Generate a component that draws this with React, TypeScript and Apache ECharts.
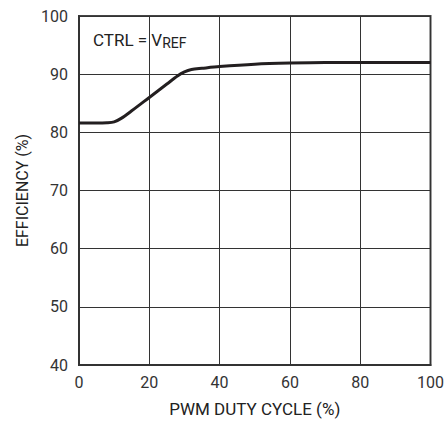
import React, { useEffect, useRef } from "react";
import * as echarts from "echarts";

const dutyCycle = [0, 5, 8, 10, 12, 15, 20, 25, 28, 30, 32, 35, 40, 50, 60, 70, 80, 90, 100];
const efficiency = [81.6, 81.6, 81.65, 81.8, 82.4, 83.7, 86.0, 88.3, 89.7, 90.4, 90.8, 91.0, 91.3, 91.7, 91.9, 92.0, 92.0, 92.0, 92.0];
const xTicks = [0, 20, 40, 60, 80, 100];
const yTicks = [40, 50, 60, 70, 80, 90, 100];

const FONT = "'Liberation Sans Narrow', 'Roboto', 'Liberation Sans', sans-serif";

export default function App() {
  const ref = useRef<HTMLDivElement>(null);
  useEffect(() => {
    if (!ref.current) return;
    const chart = echarts.init(ref.current, null, { renderer: "svg" });
    chart.setOption({
      animation: false,
      backgroundColor: "#fff",
      grid: { left: 79, right: 16, top: 16, bottom: 54, show: true, borderColor: "#444", borderWidth: 2, backgroundColor: "transparent" },
      xAxis: {
        type: "value",
        min: xTicks[0],
        max: xTicks[xTicks.length - 1],
        interval: 20,
        name: "PWM DUTY CYCLE (%)",
        nameLocation: "middle",
        nameGap: 35,
        nameTextStyle: { fontFamily: FONT, fontSize: 17, color: "#222" },
        axisLine: { show: true, lineStyle: { color: "#333", width: 2 } },
        axisTick: { show: false },
        axisLabel: { fontFamily: FONT, fontSize: 16, color: "#333", margin: 9 },
        splitLine: { show: true, lineStyle: { color: "#333", width: 1 } },
      },
      yAxis: {
        type: "value",
        min: yTicks[0],
        max: yTicks[yTicks.length - 1],
        interval: 10,
        name: "EFFICIENCY (%)",
        nameLocation: "middle",
        nameGap: 46,
        nameRotate: 90,
        nameTextStyle: { fontFamily: FONT, fontSize: 16, color: "#222" },
        axisLine: { show: true, lineStyle: { color: "#333", width: 2 } },
        axisTick: { show: false },
        axisLabel: { fontFamily: FONT, fontSize: 16, color: "#333", margin: 11 },
        splitLine: { show: true, lineStyle: { color: "#333", width: 1 } },
      },
      series: [
        {
          type: "line",
          data: dutyCycle.map((x, i) => [x, efficiency[i]]),
          smooth: 0.3,
          symbol: "none",
          lineStyle: { color: "#231f20", width: 3 },
        },
      ],
      graphic: [
        {
          type: "text",
          left: 93,
          top: 31,
          style: {
            text: "CTRL = V{sub|REF}",
            fontFamily: FONT,
            fontSize: 17,
            fill: "#222",
            rich: {
              sub: { fontFamily: FONT, fontSize: 14, fill: "#222", padding: [7, 0, 0, 0] },
            },
          },
        },
      ],
    });
    return () => chart.dispose();
  }, []);
  return (
    <div
      ref={ref}
      style={{ position: "absolute", left: 0, top: 0, width: 447, height: 422 }}
    />
  );
}
